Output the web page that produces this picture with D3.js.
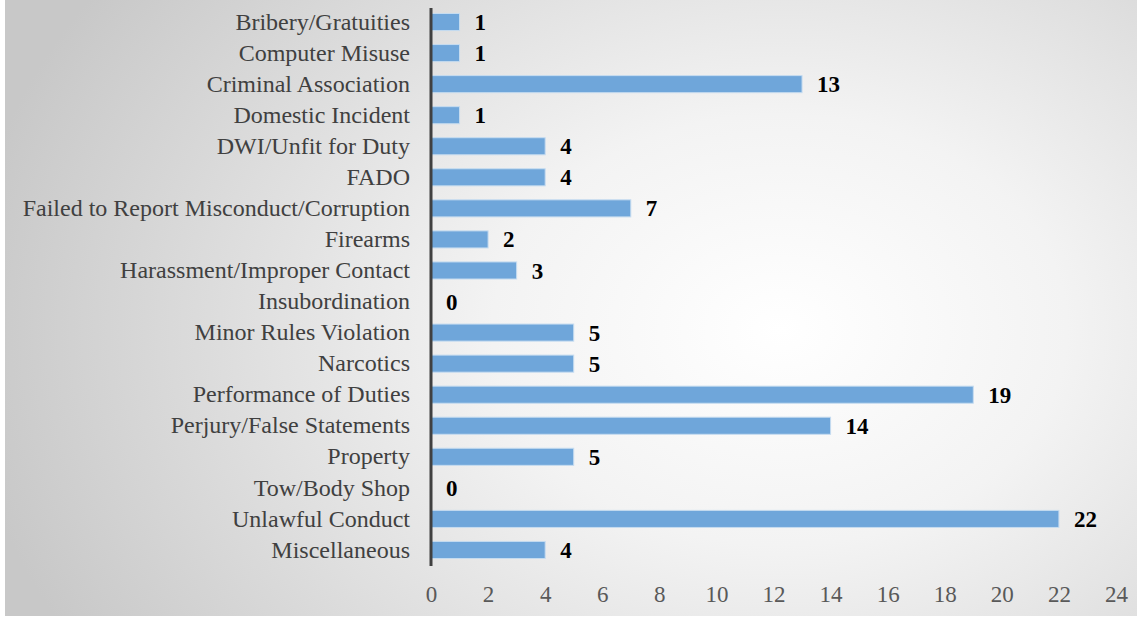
<!DOCTYPE html>
<html>
<head>
<meta charset="utf-8">
<script src="https://cdn.jsdelivr.net/npm/d3@7"></script>
<style>
  html, body { margin: 0; padding: 0; background: #fff; }
  svg { display: block; }
</style>
</head>
<body>
<script>
// data
var categories = ["Bribery/Gratuities", "Computer Misuse", "Criminal Association", "Domestic Incident",
  "DWI/Unfit for Duty", "FADO", "Failed to Report Misconduct/Corruption", "Firearms",
  "Harassment/Improper Contact", "Insubordination", "Minor Rules Violation", "Narcotics",
  "Performance of Duties", "Perjury/False Statements", "Property", "Tow/Body Shop",
  "Unlawful Conduct", "Miscellaneous"];
var counts = [1, 1, 13, 1, 4, 4, 7, 2, 3, 0, 5, 5, 19, 14, 5, 0, 22, 4];
var xTicks = [0, 2, 4, 6, 8, 10, 12, 14, 16, 18, 20, 22, 24];

var W = 1137, H = 619;
var font = "'Liberation Serif', 'Times New Roman', serif";
var svg = d3.select("body").append("svg")
    .attr("width", W)
    .attr("height", H);

// background gradient
var defs = svg.append("defs");
var grad = defs.append("radialGradient")
    .attr("id", "bg")
    .attr("gradientUnits", "userSpaceOnUse")
    .attr("cx", 780).attr("cy", 330).attr("r", 820)
    .attr("gradientTransform", "translate(780,330) scale(1,0.75) translate(-780,-330)");
grad.append("stop").attr("offset", "0").attr("stop-color", "#ffffff");
grad.append("stop").attr("offset", "0.35").attr("stop-color", "#f3f3f3");
grad.append("stop").attr("offset", "1").attr("stop-color", "#c8c8c8");

svg.append("rect")
    .attr("x", 5).attr("y", 0)
    .attr("width", W - 5).attr("height", H - 3)
    .attr("fill", "url(#bg)");

// scales
var x = d3.scaleLinear().domain([0, 24]).range([431, 1116]);
var y = d3.scaleBand().domain(categories).range([6.5, 565.5]).paddingInner(0.45).paddingOuter(0.225);

// bars
svg.selectAll(".bar")
    .data(categories)
  .enter().append("rect")
    .attr("class", "bar")
    .attr("x", x(0))
    .attr("y", function(d) { return y(d); })
    .attr("width", function(d, i) { return x(counts[i]) - x(0); })
    .attr("height", y.bandwidth())
    .attr("fill", "#6fa6da")
    .attr("stroke", "#c6dcf0")
    .attr("stroke-width", 1);

// value labels
svg.selectAll(".val")
    .data(categories)
  .enter().append("text")
    .attr("class", "val")
    .attr("x", function(d, i) { return x(counts[i]) + 15; })
    .attr("y", function(d) { return y(d) + y.bandwidth() / 2; })
    .attr("dy", "0.35em")
    .style("font-family", font)
    .style("font-size", "23px")
    .style("font-weight", "bold")
    .style("fill", "#000")
    .text(function(d, i) { return counts[i]; });

// y axis (category labels)
var yAxis = d3.axisLeft(y).tickSize(0).tickPadding(21);
var gy = svg.append("g")
    .attr("transform", "translate(" + x(0) + ",0)")
    .call(yAxis);
gy.select(".domain").remove();
gy.selectAll("text")
    .style("font-family", font)
    .style("font-size", "24px")
    .style("fill", "#404040");

svg.append("line")
    .attr("x1", x(0)).attr("x2", x(0))
    .attr("y1", 8).attr("y2", 566)
    .attr("stroke", "#404040")
    .attr("stroke-width", 3);

// x axis
var xAxis = d3.axisBottom(x).tickValues(xTicks).tickSize(0).tickPadding(0);
var gx = svg.append("g")
    .attr("transform", "translate(0,586)")
    .call(xAxis);
gx.select(".domain").remove();
gx.selectAll("text")
    .style("font-family", font)
    .style("font-size", "23px")
    .style("fill", "#595959");
</script>
</body>
</html>
